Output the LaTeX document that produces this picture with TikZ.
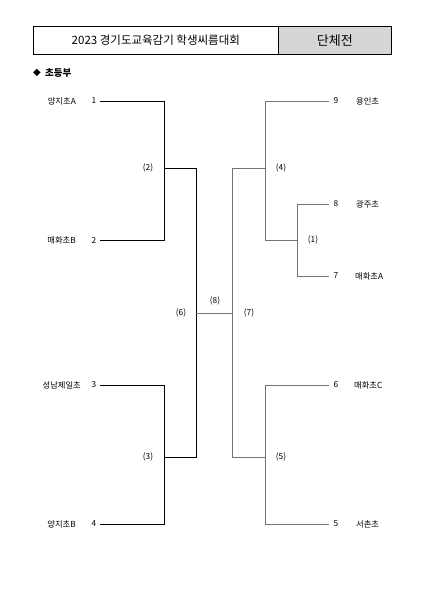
\documentclass[tikz,border=0pt]{standalone}
\usepackage{fontspec}
\setmainfont{Noto Sans CJK KR}
\newfontfamily\symfont{DejaVu Sans}
\begin{document}
\begin{tikzpicture}[x=1pt,y=-1pt,
  lab/.style={inner sep=0pt,font=\fontsize{8.3}{9}\selectfont},
  blk/.style={line width=0.7pt,black},
  gry/.style={line width=0.7pt,color=black!55}]
\useasboundingbox (0,0) rectangle (424,600);
% header
\node[draw,line width=0.7pt,minimum width=245pt,minimum height=28pt,inner sep=0pt,anchor=north west] (hl) at (33,26) {};
\node[draw,line width=0.7pt,fill=black!16,minimum width=113pt,minimum height=28pt,inner sep=0pt,anchor=north west] (hr) at (278,26) {};
\node[inner sep=0pt,font=\fontsize{11.5}{13}\selectfont] (title) at (hl.center) {2023 경기도교육감기 학생씨름대회};
\node[inner sep=0pt,font=\fontsize{13}{15}\selectfont] (team) at (hr.center) {단체전};
\node[inner sep=0pt,anchor=center,font=\symfont\fontsize{10}{11}\selectfont] (sec) at (37,73) {◆};
\node[inner sep=0pt,anchor=west,font=\fontsize{9.5}{11}\selectfont\bfseries] (sect) at (45,73) {초등부};
% left names
\node[lab,anchor=east] (n1) at (76,101) {양지초A};
\node[lab] (k1) at (94,101) {1};
\node[lab,anchor=east] (n2) at (76,240) {매화초B};
\node[lab] (k2) at (94,240) {2};
\node[lab,anchor=east] (n3) at (81,385) {성남제일초};
\node[lab] (k3) at (94,385) {3};
\node[lab,anchor=east] (n4) at (76,524) {양지초B};
\node[lab] (k4) at (94,524) {4};
% right names
\node[lab] (k9) at (336,101) {9};
\node[lab,anchor=west] (n9) at (356,101) {용인초};
\node[lab] (k8) at (336,204) {8};
\node[lab,anchor=west] (n8) at (356,204) {광주초};
\node[lab] (k7) at (336,276) {7};
\node[lab,anchor=west] (n7) at (355,276) {매화초A};
\node[lab] (k6) at (336,385) {6};
\node[lab,anchor=west] (n6) at (354,385) {매화초C};
\node[lab] (k5) at (336,524) {5};
\node[lab,anchor=west] (n5) at (356,524) {서촌초};
% match labels
\node[lab] (m2) at (148,168) {(2)};
\node[lab] (m3) at (148,457) {(3)};
\node[lab] (m6) at (181,313) {(6)};
\node[lab] (m8) at (215,301) {(8)};
\node[lab] (m7) at (249,313) {(7)};
\node[lab] (m4) at (281,168) {(4)};
\node[lab] (m1) at (313,240) {(1)};
\node[lab] (m5) at (281,457) {(5)};
% coordinates
\coordinate (a1) at (100,101); \coordinate (a2) at (100,240);
\coordinate (a3) at (100,385); \coordinate (a4) at (100,524);
\coordinate (b1) at (329,101); \coordinate (b8) at (329,204);
\coordinate (b7) at (329,276); \coordinate (b6) at (329,385);
\coordinate (b5) at (329,524);
% left bracket
\draw[blk] (a1) -| (164,240) -- (a2);
\draw[blk] (164,168) -| (196,457) -- (164,457);
\draw[blk] (a3) -| (164,524) -- (a4);
% right bracket
\draw[gry] (b1) -| (265,240) -- (297,240);
\draw[gry] (b8) -| (297,276) -- (b7);
\draw[gry] (265,168) -| (232,457) -- (265,457);
\draw[gry] (b6) -| (265,524) -- (b5);
\draw[gry] (196,313) -- (232,313);
\end{tikzpicture}
\end{document}
